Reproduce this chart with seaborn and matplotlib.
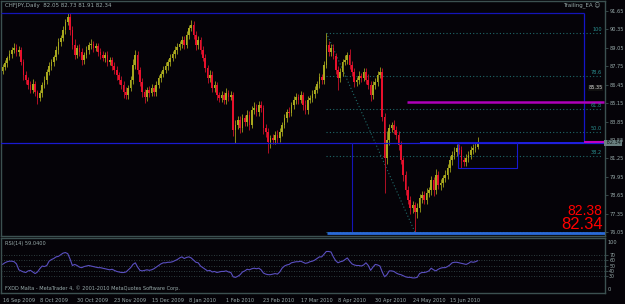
import numpy as np
import pandas as pd
import matplotlib
matplotlib.use("Agg")
import matplotlib.pyplot as plt
import seaborn as sns

# ---------------- data ----------------
chart_title = "CHFJPY,Daily  82.05 82.73 81.91 82.34"
first_open = 87.45
closes = [
    87.70, 87.98, 88.34, 88.62, 88.90, 89.04, 88.76, 88.90, 88.05, 87.14,
    86.78, 86.43, 86.08, 86.50, 85.93, 85.51, 85.86, 86.43, 86.78, 87.35,
    87.77, 88.05, 88.41, 88.90, 89.46, 89.75, 90.31, 90.88, 91.23, 90.31,
    89.25, 88.55, 89.04, 88.76, 88.19, 88.55, 88.90, 89.25, 89.32, 89.04,
    89.18, 88.76, 88.55, 88.34, 88.55, 88.05, 88.19, 87.77, 87.49, 87.14,
    86.78, 86.43, 85.93, 85.72, 86.22, 86.78, 87.84, 88.55, 87.49, 86.64,
    85.93, 85.58, 86.08, 85.86, 86.22, 85.93, 86.43, 86.92, 87.21, 87.49,
    87.77, 88.05, 88.34, 88.62, 88.90, 89.11, 89.32, 89.61, 89.25, 89.96,
    90.45, 90.67, 89.96, 89.25, 89.61, 88.90, 88.34, 87.63, 86.92, 87.14,
    86.22, 86.43, 85.72, 85.51, 85.72, 85.37, 85.86, 85.58, 85.72, 83.25,
    83.60, 83.96, 83.39, 84.10, 83.82, 84.31, 83.60, 84.66, 84.81, 84.52,
    85.02, 84.81, 83.39, 83.11, 82.41, 82.69, 82.55, 82.90, 82.69, 83.11,
    83.60, 84.10, 84.52, 84.45, 85.02, 85.37, 85.58, 85.37, 85.72, 85.02,
    84.66, 85.37, 85.51, 85.79, 86.08, 86.50, 86.99, 86.78, 87.84, 89.25,
    88.76, 89.04, 88.48, 87.49, 86.92, 87.35, 88.05, 88.19, 88.55, 87.84,
    87.35, 86.64, 86.78, 87.06, 86.92, 87.35, 86.78, 86.43, 85.72, 86.43,
    86.64, 87.14, 87.35, 84.17, 81.28, 82.55, 83.39, 83.60, 83.25, 82.90,
    82.19, 81.13, 80.08, 79.02, 78.31, 77.75, 77.96, 77.46, 77.75, 78.45,
    78.67, 78.31, 78.81, 79.02, 79.72, 79.02, 80.08, 79.37, 79.51, 79.86,
    80.08, 80.57, 81.13, 81.49, 81.70, 81.98, 81.84, 81.13, 80.99, 81.28,
    81.49, 81.84, 81.98, 82.05, 82.34,
]
upper_wick = [
    0.20, 0.25, 0.15, 0.30, 0.20, 0.35, 0.25, 0.30, 0.20, 0.25,
    0.30, 0.20, 0.25, 0.35, 0.20, 0.15, 0.25, 0.20, 0.30, 0.20,
    0.25, 0.20, 0.15, 0.25, 0.30, 0.20, 0.25, 0.20, 0.28, 0.30,
    0.25, 0.40, 0.20, 0.30, 0.25, 0.20, 0.30, 0.25, 0.35, 0.20,
    0.25, 0.20, 0.30, 0.25, 0.20, 0.30, 0.25, 0.20, 0.30, 0.25,
    0.20, 0.30, 0.25, 0.35, 0.20, 0.30, 0.40, 0.35, 0.25, 0.20,
    0.30, 0.25, 0.20, 0.30, 0.25, 0.20, 0.30, 0.25, 0.20, 0.25,
    0.30, 0.20, 0.25, 0.20, 0.30, 0.25, 0.20, 0.30, 0.25, 0.30,
    0.25, 0.35, 0.30, 0.25, 0.30, 0.20, 0.25, 0.30, 0.20, 0.35,
    0.25, 0.30, 0.20, 0.25, 0.30, 0.20, 0.35, 0.25, 0.30, 0.20,
    0.35, 0.30, 0.25, 0.30, 0.20, 0.35, 0.25, 0.30, 0.40, 0.25,
    0.30, 0.25, 0.20, 0.30, 0.25, 0.20, 0.30, 0.25, 0.35, 0.25,
    0.20, 0.30, 0.25, 0.35, 0.20, 0.30, 0.25, 0.20, 0.30, 0.25,
    0.35, 0.25, 0.20, 0.30, 0.25, 0.20, 0.30, 0.25, 0.30, 0.85,
    0.30, 0.25, 0.30, 0.20, 0.25, 0.30, 0.25, 0.35, 0.20, 0.40,
    0.25, 0.30, 0.20, 0.35, 0.25, 0.30, 0.25, 0.45, 0.30, 0.25,
    0.30, 0.25, 0.35, 0.30, 0.25, 0.60, 0.30, 0.25, 0.35, 0.30,
    0.25, 0.30, 0.20, 0.25, 0.30, 0.25, 0.30, 0.20, 0.35, 0.25,
    0.30, 0.25, 0.35, 0.20, 0.30, 0.25, 0.40, 0.25, 0.30, 0.25,
    0.35, 0.25, 0.30, 0.25, 0.35, 0.30, 0.25, 0.30, 0.25, 0.30,
    0.25, 0.30, 0.25, 0.35, 0.39,
]
lower_wick = [
    0.25, 0.20, 0.30, 0.15, 0.25, 0.20, 0.30, 0.25, 0.20, 0.35,
    0.25, 0.30, 0.20, 0.25, 0.30, 0.40, 0.20, 0.25, 0.20, 0.30,
    0.20, 0.25, 0.30, 0.20, 0.25, 0.30, 0.20, 0.25, 0.20, 0.35,
    0.30, 0.25, 0.20, 0.30, 0.35, 0.25, 0.20, 0.30, 0.25, 0.30,
    0.20, 0.30, 0.25, 0.20, 0.30, 0.25, 0.20, 0.30, 0.25, 0.35,
    0.30, 0.25, 0.40, 0.30, 0.25, 0.20, 0.30, 0.25, 0.30, 0.25,
    0.35, 0.40, 0.25, 0.30, 0.20, 0.30, 0.25, 0.20, 0.30, 0.25,
    0.20, 0.25, 0.30, 0.20, 0.25, 0.30, 0.20, 0.25, 0.30, 0.20,
    0.25, 0.20, 0.30, 0.35, 0.25, 0.30, 0.20, 0.25, 0.35, 0.30,
    0.30, 0.25, 0.35, 0.30, 0.25, 0.30, 0.25, 0.30, 0.20, 0.40,
    0.91, 0.30, 0.35, 0.25, 0.30, 0.25, 0.35, 0.20, 0.25, 0.30,
    0.25, 0.30, 0.45, 0.35, 0.78, 0.40, 0.30, 0.25, 0.35, 0.30,
    0.25, 0.20, 0.30, 0.25, 0.20, 0.30, 0.25, 0.30, 0.20, 0.35,
    0.30, 0.25, 0.20, 0.25, 0.30, 0.20, 0.25, 0.30, 0.25, 0.20,
    0.25, 0.30, 0.20, 0.30, 0.84, 0.30, 0.25, 0.20, 0.30, 0.25,
    0.30, 0.35, 0.25, 0.30, 0.25, 0.20, 0.30, 0.25, 0.40, 0.30,
    0.25, 0.30, 0.25, 0.30, 2.47, 0.40, 0.35, 0.30, 0.25, 0.30,
    0.35, 0.30, 0.40, 0.35, 0.30, 0.45, 0.35, 1.41, 0.40, 0.30,
    0.35, 0.30, 0.25, 0.30, 0.35, 0.40, 0.30, 0.25, 0.35, 0.30,
    0.25, 0.30, 0.25, 0.35, 0.30, 0.25, 0.30, 0.55, 0.30, 0.25,
    0.30, 0.25, 0.30, 0.25, 0.14,
]
rsi_values = [
    52, 55, 57, 58, 58, 57, 53, 42, 40, 38,
    37, 40, 41, 38, 35, 38, 44, 49, 48, 50,
    58, 61, 63, 66, 67, 70, 73, 74, 72, 62,
    50, 52, 50, 47, 46, 48, 49, 50, 49, 48,
    47, 46, 46, 45, 44, 43, 42, 43, 41, 39,
    38, 37, 37, 38, 42, 46, 52, 55, 47, 41,
    40, 41, 42, 41, 42, 44, 47, 50, 53, 55,
    55, 56, 56, 57, 59, 61, 64, 66, 63, 65,
    66, 64, 60, 56, 55, 49, 46, 43, 40, 41,
    38, 39, 37, 38, 39, 39, 40, 38, 37, 29,
    28, 30, 33, 38, 40, 43, 42, 44, 45, 44,
    45, 42, 36, 34, 33, 33, 34, 35, 34, 38,
    45, 49, 51, 52, 55, 56, 57, 57, 58, 56,
    54, 55, 57, 58, 60, 63, 66, 66, 71, 76,
    76, 75, 66, 59, 55, 57, 58, 61, 64, 58,
    53, 51, 50, 50, 49, 51, 55, 50, 41, 47,
    52, 51, 49, 38, 29, 33, 40, 40, 39, 36,
    34, 33, 31, 29, 28, 28, 27, 27, 28, 35,
    37, 37, 38, 40, 45, 42, 40, 43, 45, 46,
    46, 48, 51, 55, 56, 56, 55, 54, 53, 52,
    54, 57, 56, 57, 59.04,
]
date_labels = ["16 Sep 2009", "8 Oct 2009", "30 Oct 2009", "23 Nov 2009",
               "15 Dec 2009", "8 Jan 2010", "1 Feb 2010", "23 Feb 2010",
               "17 Mar 2010", "8 Apr 2010", "30 Apr 2010", "24 May 2010",
               "15 Jun 2010"]
date_label_bars = [0, 16, 32, 48, 64, 80, 96, 112, 128, 144, 160, 176, 192]
price_ticks = [91.65, 90.35, 89.05, 87.75, 86.45, 85.15, 83.85, 82.55,
               81.25, 79.95, 78.65, 77.35, 76.05]
fib_levels = [90.10, 87.09, 84.73, 83.08, 81.42, 76.05]
fib_names = ["100", "78.6", "61.8", "50.0", "38.2", ""]
rsi_levels = [70, 60, 50, 40, 30]
bid_price = 82.34
ask_price = 82.38
resistance_price = 85.23
resistance_label = "85.35"
box_top, box_bottom = 82.41, 80.57
frame_top = 91.51

# ---------------- styling ----------------
BG = "#050308"
FRAME = "#3c5050"
TXT = "#9aacac"
BULL = "#a8a81e"
BEAR = "#e8102c"
FIB = "#1f6a6a"
FS = 3.6

sns.set_theme(style="dark", rc={
    "axes.facecolor": BG, "figure.facecolor": BG, "axes.edgecolor": FRAME,
    "axes.grid": False, "xtick.color": TXT, "ytick.color": TXT,
})
plt.rcParams["font.family"] = ["DejaVu Sans"]

n = len(closes)
opens = [first_open] + closes[:-1]
df = pd.DataFrame({"bar": np.arange(n), "open": opens, "close": closes,
                   "uw": upper_wick, "lw": lower_wick, "rsi": rsi_values})
df["high"] = df[["open", "close"]].max(axis=1) + df["uw"]
df["low"] = df[["open", "close"]].min(axis=1) - df["lw"]
df["bull"] = df["close"] >= df["open"]

W, H = 625, 304
fig = plt.figure(figsize=(W / 100, H / 100), dpi=100)
ax = fig.add_axes([1.5 / W, 1 - 236 / H, 603.5 / W, 235 / H])
axr = fig.add_axes([1.5 / W, 1 - 293 / H, 603.5 / W, 55 / H])

XL = (-0.43, 258.6)
for a in (ax, axr):
    a.set_facecolor(BG)
    a.set_xlim(*XL)
    for s in a.spines.values():
        s.set_color(FRAME)
        s.set_linewidth(1.0)

# ---- price panel ----
ax.set_ylim(75.77, 92.36)
cols = np.where(df["bull"], BULL, BEAR)
wick_cols = np.where(df["bull"], "#8a8a18", "#b01024")
ax.vlines(df["bar"], df["low"], df["high"], colors=wick_cols, lw=0.7, zorder=2)
body_bottom = df[["open", "close"]].min(axis=1)
body_h = (df["close"] - df["open"]).abs().clip(lower=0.06)
ax.bar(df["bar"], body_h, bottom=body_bottom, width=0.72, color=cols,
       linewidth=0, zorder=3)

# fibonacci
fib_x0, fib_x1 = 139, 257.5
ax.hlines(fib_levels, fib_x0, fib_x1, colors=FIB, lw=0.8,
          linestyles=(0, (1, 2)), zorder=1)
for lvl, nm in zip(fib_levels, fib_names):
    if nm:
        ax.text(257.3, lvl + 0.08, nm, color="#2a9090", fontsize=FS,
                ha="right", va="bottom", zorder=5)
ax.plot([139, 177], [fib_levels[0], fib_levels[-1]], color=FIB, lw=0.8,
        ls=(0, (1, 2)), zorder=1)

# blue objects
ax.axhline(bid_price, color="#1a1ad0", lw=0.9, zorder=4)
ax.hlines(bid_price + 0.03, 179, 249.4, colors="#2020e0", lw=1.4, zorder=4)
ax.hlines(frame_top, XL[0], 249.4, colors="#1414b8", lw=0.9, zorder=4)
ax.vlines(249.4, bid_price, frame_top, colors="#1414c8", lw=0.9, zorder=4)
ax.vlines(150.2, fib_levels[-1], bid_price, colors="#1414b8", lw=0.8, zorder=4)
ax.plot([195.7, 221, 221, 195.7, 195.7],
        [box_top, box_top, box_bottom, box_bottom, box_top],
        color="#1818d0", lw=0.8, zorder=4)
ax.hlines(fib_levels[-1] - 0.05, 139.2, XL[1], colors="#2a6ad8", lw=2.0, zorder=4)

# magenta lines
ax.hlines(resistance_price, 173.8, 258.0, colors="#b000b8", lw=1.8, zorder=4)
ax.hlines(ask_price, 249.4, 258.0, colors="#c000c0", lw=1.5, zorder=5)
ax.text(257.6, resistance_price + 1.0, resistance_label, color="#d8d8d8",
        fontsize=FS, ha="right", va="center", zorder=6,
        bbox=dict(boxstyle="square,pad=0.1", fc="#101010", ec="none"))

# big price texts
ax.text(257.5, 77.55, f"{ask_price:.2f}", color="#ff0000", fontsize=10,
        family="Liberation Sans", ha="right", va="center", zorder=6)
ax.text(257.5, 76.55, f"{bid_price:.2f}", color="#ff0000", fontsize=12,
        family="Liberation Sans", ha="right", va="center", zorder=6)

ax.text(0.006, 0.979, chart_title, transform=ax.transAxes, color=TXT,
        fontsize=FS + 0.4, ha="left", va="center")
ax.text(0.992, 0.979, "Trailing_EA \u263a", transform=ax.transAxes,
        color=TXT, fontsize=FS + 0.4, ha="right", va="center")

ax.yaxis.tick_right()
ax.set_yticks(price_ticks)
ax.set_yticklabels([f"{p:.2f}" for p in price_ticks])
ax.tick_params(axis="y", labelsize=FS, length=2, width=0.6, pad=1.0,
               color=FRAME, labelcolor=TXT)
ax.set_xticks([])
ax.text(1.0, bid_price, f" {bid_price:.2f}", transform=ax.get_yaxis_transform(),
        color="#0c1414", fontsize=FS, ha="left", va="center", zorder=7,
        clip_on=False,
        bbox=dict(boxstyle="square,pad=0.15", fc="#6a8080", ec="none"))

# ---- RSI panel ----
axr.set_ylim(-1, 101)
axr.hlines(rsi_levels, XL[0], XL[1], colors="#3a5050", lw=0.6,
           linestyles=(0, (1, 2)))
sns.lineplot(data=df, x="bar", y="rsi", ax=axr, color="#5a4fc0", lw=0.8)
axr.set_xlim(*XL)
axr.set_xlabel("")
axr.set_ylabel("")
axr.yaxis.tick_right()
axr.set_yticks(rsi_levels)
axr.set_yticklabels([str(v) for v in rsi_levels])
axr.tick_params(axis="y", labelsize=FS - 0.2, length=2, width=0.6, pad=1.0,
                color=FRAME, labelcolor=TXT)
axr.text(1.004, 92, "100", transform=axr.get_yaxis_transform(), color=TXT,
         fontsize=FS, ha="left", va="center", clip_on=False)
axr.text(1.004, 6, "0", transform=axr.get_yaxis_transform(), color=TXT,
         fontsize=FS, ha="left", va="center", clip_on=False)
axr.text(0.006, 0.90, f"RSI(14) {rsi_values[-1]:.4f}", transform=axr.transAxes,
         color=TXT, fontsize=FS, ha="left", va="center")
axr.text(0.006, 0.09,
         "FXDD Malta - MetaTrader 4, \u00a9 2001-2010 MetaQuotes Software Corp.",
         transform=axr.transAxes, color=TXT, fontsize=FS, ha="left",
         va="center")
axr.set_xticks(date_label_bars)
axr.set_xticklabels(date_labels)
axr.tick_params(axis="x", labelsize=FS, length=2.5, width=0.6, pad=1.0,
                color=FRAME, labelcolor=TXT)
for lab in axr.get_xticklabels():
    lab.set_ha("left")

fig.savefig("out.png", dpi=100, facecolor=BG)
